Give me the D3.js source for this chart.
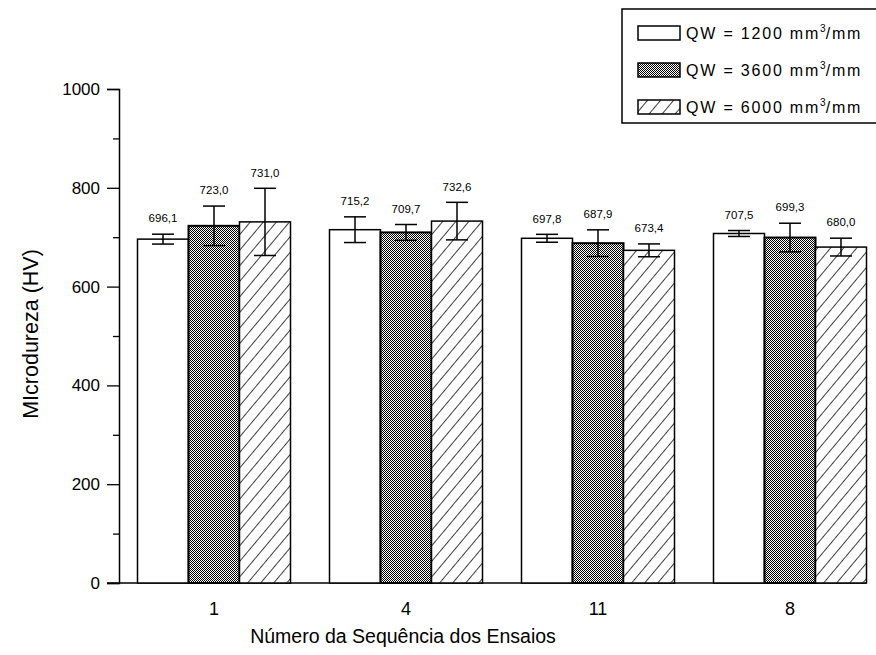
<!DOCTYPE html>
<html>
<head>
<meta charset="utf-8">
<script src="https://cdn.jsdelivr.net/npm/d3@7"></script>
<style>
  html, body { margin: 0; padding: 0; background: #fff; }
  svg { display: block; font-family: "Liberation Sans", Arial, sans-serif; }
</style>
</head>
<body>
<svg id="chart" width="876" height="655"></svg>
<script>
const categories = ["1", "4", "11", "8"];
const seriesNames = ["1200", "3600", "6000"];
const values1200 = [696.1, 715.2, 697.8, 707.5];
const values3600 = [723.0, 709.7, 687.9, 699.3];
const values6000 = [731.0, 732.6, 673.4, 680.0];
const errors1200 = [10, 26, 8, 6];
const errors3600 = [40, 16, 27, 29];
const errors6000 = [68, 38, 13, 18];
const yTicks = [0, 200, 400, 600, 800, 1000];
const yMinorTicks = [100, 300, 500, 700, 900];

const seriesValues = [values1200, values3600, values6000];
const seriesErrors = [errors1200, errors3600, errors6000];
const fills = ["#fff", "url(#dots)", "url(#hatch)"];

const svg = d3.select("#chart");
const defs = svg.append("defs");

// dotted pattern (dense checker)
const dots = defs.append("pattern").attr("id", "dots")
  .attr("patternUnits", "userSpaceOnUse").attr("width", 2).attr("height", 2);
dots.append("rect").attr("width", 2).attr("height", 2).attr("fill", "#fff");
dots.append("rect").attr("x", 0).attr("y", 0).attr("width", 1).attr("height", 1).attr("fill", "#000");
dots.append("rect").attr("x", 1).attr("y", 1).attr("width", 1).attr("height", 1).attr("fill", "#000");

// diagonal hatch "///"
const hatch = defs.append("pattern").attr("id", "hatch")
  .attr("patternUnits", "userSpaceOnUse").attr("width", 10).attr("height", 10)
  .attr("patternTransform", "rotate(40)");
hatch.append("rect").attr("width", 10).attr("height", 10).attr("fill", "#fff");
hatch.append("line").attr("x1", 0).attr("y1", 0).attr("x2", 0).attr("y2", 10)
  .attr("stroke", "#000").attr("stroke-width", 1.5);

const y = d3.scaleLinear().domain([0, 1000]).range([583, 89]);
const x = d3.scalePoint().domain(categories).range([118, 886]).padding(0.5);
const barW = 51;
const xs = d3.scaleBand().domain(seriesNames).range([-1.5 * barW, 1.5 * barW]).padding(0);

// y axis
const yAxis = d3.axisLeft(y).tickValues(yTicks).tickSize(12).tickPadding(7)
  .tickFormat(d3.format("d"));
const gy = svg.append("g").attr("transform", "translate(119,0)").call(yAxis);
gy.select(".domain").attr("stroke", "#000").attr("stroke-width", 1.5);
gy.selectAll(".tick line").attr("stroke", "#000").attr("stroke-width", 1.3);
gy.selectAll(".tick text").attr("font-size", 17).attr("fill", "#000");
const gyMinor = svg.append("g").attr("transform", "translate(119,0)")
  .call(d3.axisLeft(y).tickValues(yMinorTicks).tickSize(6).tickFormat(""));
gyMinor.select(".domain").remove();
gyMinor.selectAll(".tick line").attr("stroke", "#000").attr("stroke-width", 1.3);

// baseline
svg.append("line")
  .attr("x1", 107).attr("x2", x(categories[categories.length - 1]) + 1.5 * barW)
  .attr("y1", y(0)).attr("y2", y(0))
  .attr("stroke", "#000").attr("stroke-width", 1.5);

// bars
const groups = svg.append("g").selectAll("g").data(categories).join("g")
  .attr("transform", d => `translate(${x(d)},0)`);

seriesNames.forEach((s, si) => {
  groups.append("rect")
    .attr("x", xs(s))
    .attr("y", (d, i) => y(seriesValues[si][i]))
    .attr("width", xs.bandwidth())
    .attr("height", (d, i) => y(0) - y(seriesValues[si][i]))
    .attr("fill", fills[si])
    .attr("stroke", "#000")
    .attr("stroke-width", si === 1 ? 2 : 1.5);
});

// error bars and labels
const capW = 22;
seriesNames.forEach((s, si) => {
  const cx = xs(s) + xs.bandwidth() / 2;
  groups.each(function(d, i) {
    const g = d3.select(this);
    const v = seriesValues[si][i], e = seriesErrors[si][i];
    g.append("line").attr("x1", cx).attr("x2", cx)
      .attr("y1", y(v + e)).attr("y2", y(v - e))
      .attr("stroke", "#000").attr("stroke-width", 1.5);
    [v + e, v - e].forEach(val => {
      g.append("line").attr("x1", cx - capW / 2).attr("x2", cx + capW / 2)
        .attr("y1", y(val)).attr("y2", y(val))
        .attr("stroke", "#000").attr("stroke-width", 1.5);
    });
    g.append("text")
      .attr("x", cx).attr("y", y(v + e + 32))
      .attr("dy", "0.35em")
      .attr("text-anchor", "middle")
      .attr("font-size", 11.5)
      .attr("fill", "#000")
      .text(d3.format(".1f")(v).replace(".", ","));
  });
});

// x tick labels
svg.append("g").selectAll("text").data(categories).join("text")
  .attr("x", d => x(d)).attr("y", 609).attr("dy", "0.35em")
  .attr("text-anchor", "middle").attr("font-size", 18).attr("fill", "#000")
  .text(d => d);

// axis titles
svg.append("text").attr("x", 403).attr("y", 636).attr("dy", "0.35em")
  .attr("text-anchor", "middle").attr("font-size", 19.5).attr("fill", "#000")
  .text("Número da Sequência dos Ensaios");
svg.append("text")
  .attr("transform", "translate(30,334) rotate(-90)")
  .attr("dy", "0.35em")
  .attr("text-anchor", "middle").attr("font-size", 21.5).attr("fill", "#000")
  .text("MIcrodureza (HV)");

// legend
const legend = svg.append("g");
legend.append("rect").attr("x", 622).attr("y", 9).attr("width", 262).attr("height", 114)
  .attr("fill", "#fff").attr("stroke", "#000").attr("stroke-width", 1.5);
const rowY = [33, 70, 107];
seriesNames.forEach((s, si) => {
  legend.append("rect").attr("x", 638).attr("y", rowY[si] - 7).attr("width", 42).attr("height", 14)
    .attr("fill", fills[si]).attr("stroke", "#000").attr("stroke-width", 1.5);
  const t = legend.append("text").attr("x", 686).attr("y", rowY[si]).attr("dy", "0.35em")
    .attr("font-size", 16).attr("letter-spacing", 1.8).attr("fill", "#000");
  t.append("tspan").text(`QW = ${s} mm`);
  t.append("tspan").attr("font-size", 10).attr("dy", -7).attr("letter-spacing", 0).text("3");
  t.append("tspan").attr("dy", 7).text("/mm");
});
</script>
</body>
</html>
